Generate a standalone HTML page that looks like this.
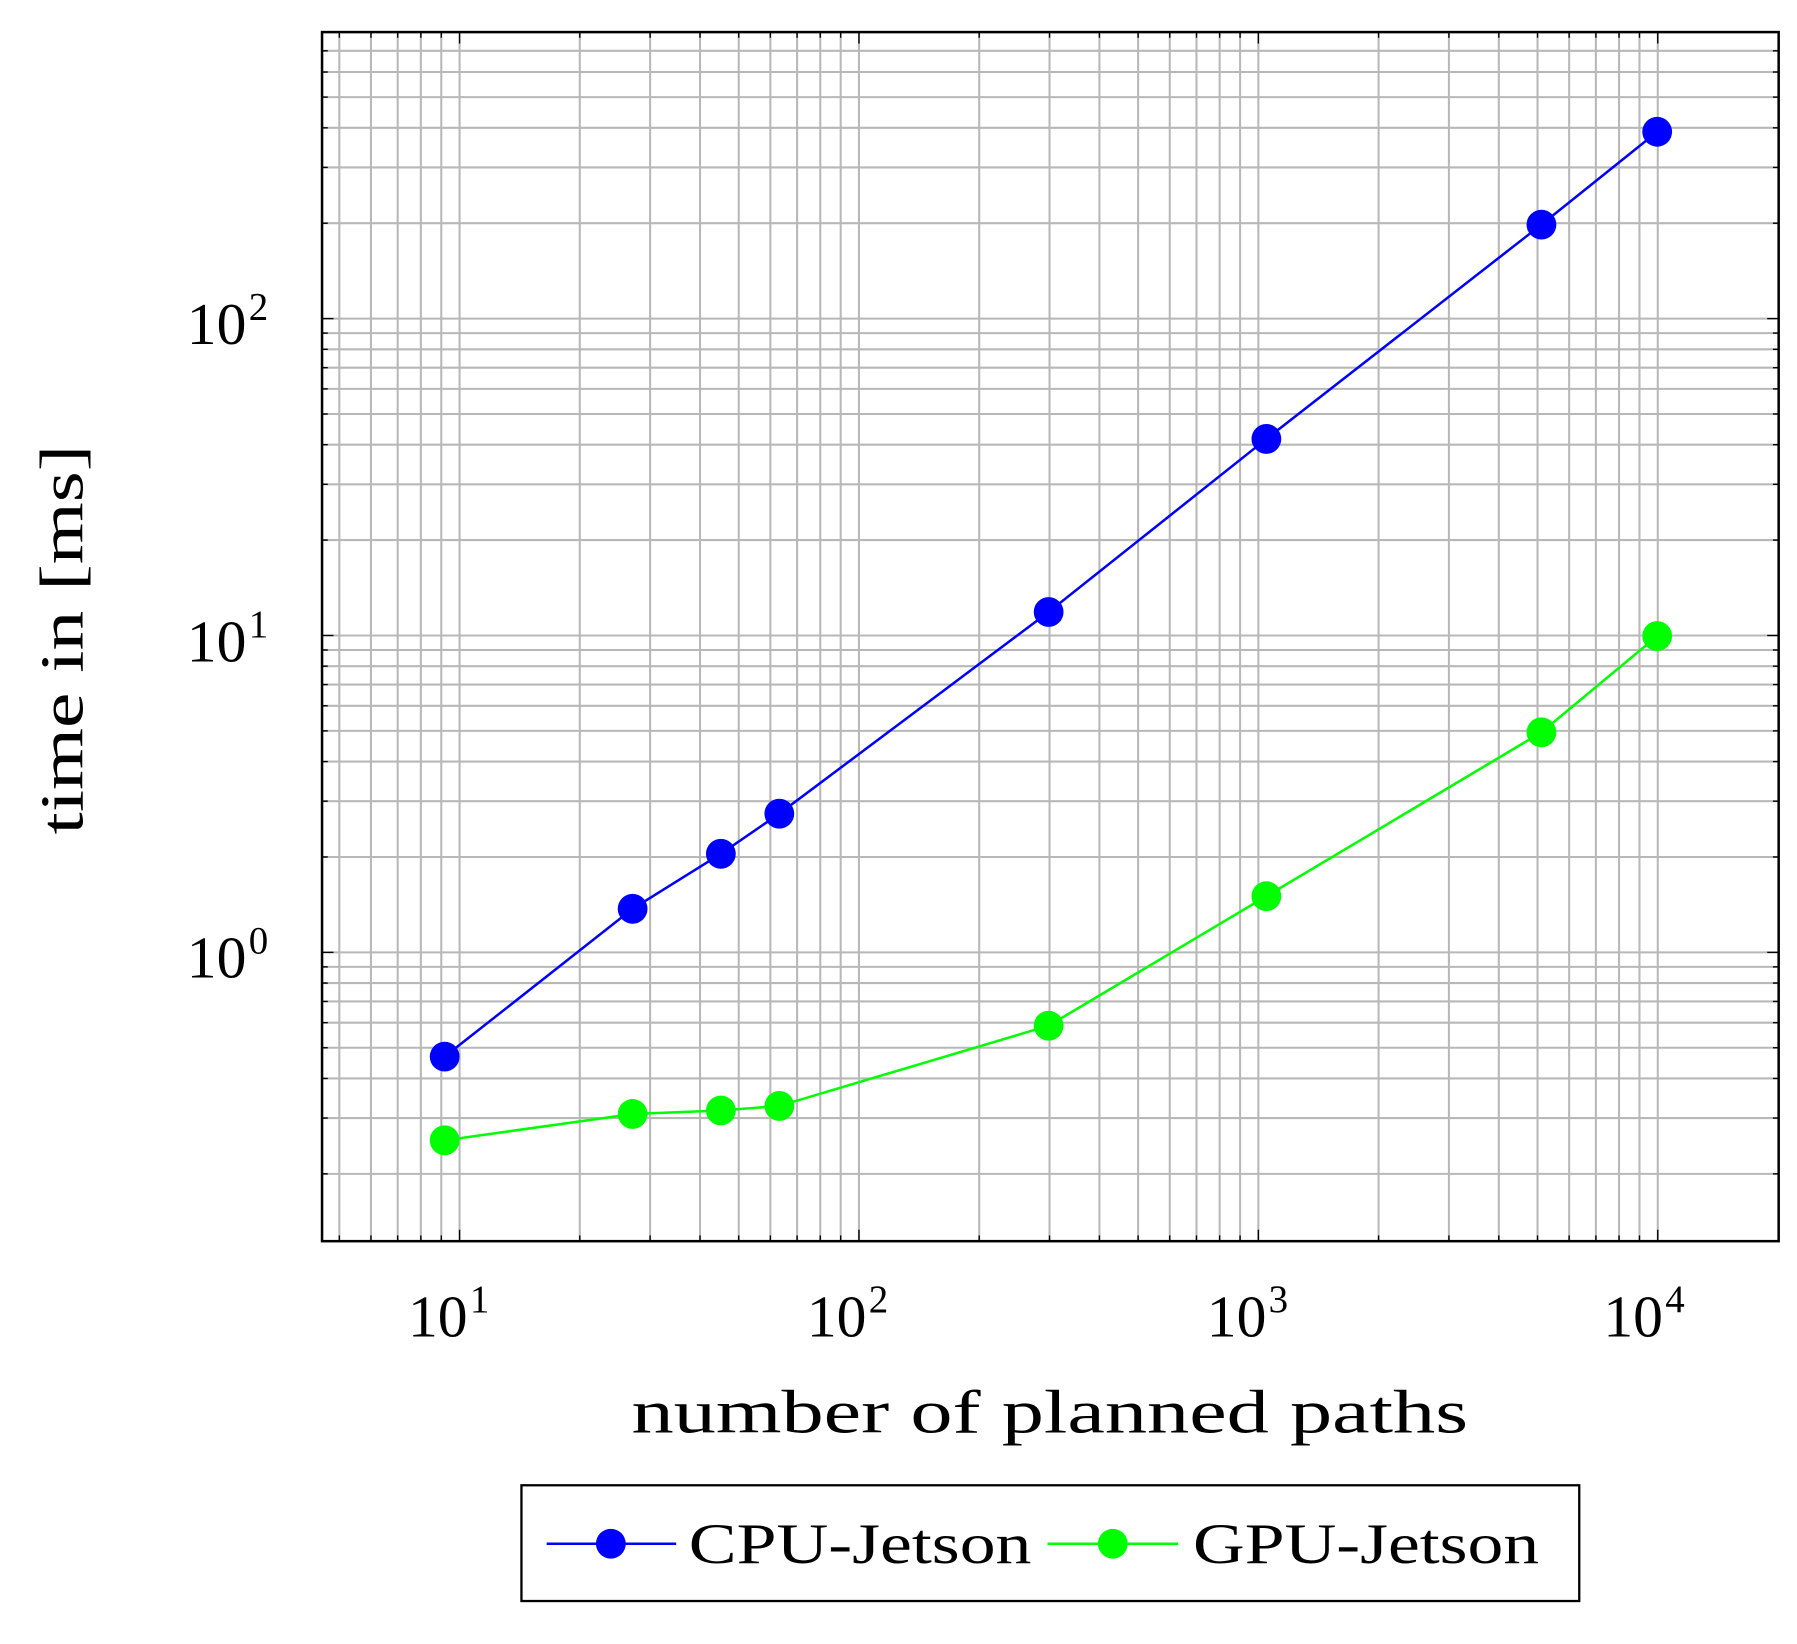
<!DOCTYPE html>
<html><head><meta charset="utf-8"><style>
html,body{margin:0;padding:0;background:#fff;}
svg{display:block;}
text{font-family:"Liberation Serif",serif;fill:#000;}
</style></head><body>
<svg id="s" width="1797" height="1644" viewBox="0 0 1568 1434.5" preserveAspectRatio="none" xmlns="http://www.w3.org/2000/svg">
<g id="grid" stroke="#b8b8b8" stroke-width="1.8"></g>
<rect x="281" y="28" width="1271" height="1055" fill="none" stroke="#000" stroke-width="2.2"/>
<g id="ticks" stroke="#000" stroke-width="1.2"></g>
<polyline fill="none" stroke="#0000ff" stroke-width="2.2" points="388,922 552,793 629,745 680,710 915,534 1105,383 1345,196 1446,115"/>
<polyline fill="none" stroke="#00ff00" stroke-width="2.2" points="388,995 552,972 629,969 680,965 915,895 1105,782 1345,639 1446,555"/>
<g fill="#0000ff">
<circle cx="388" cy="922" r="13"/><circle cx="552" cy="793" r="13"/><circle cx="629" cy="745" r="13"/><circle cx="680" cy="710" r="13"/><circle cx="915" cy="534" r="13"/><circle cx="1105" cy="383" r="13"/><circle cx="1345" cy="196" r="13"/><circle cx="1446" cy="115" r="13"/>
</g>
<g fill="#00ff00">
<circle cx="388" cy="995" r="13"/><circle cx="552" cy="972" r="13"/><circle cx="629" cy="969" r="13"/><circle cx="680" cy="965" r="13"/><circle cx="915" cy="895" r="13"/><circle cx="1105" cy="782" r="13"/><circle cx="1345" cy="639" r="13"/><circle cx="1446" cy="555" r="13"/>
</g>
<g font-size="52">
<text x="356" y="1166" textLength="52" lengthAdjust="spacingAndGlyphs">10</text><text x="410" y="1145" font-size="34">1</text>
<text x="704" y="1166" textLength="52" lengthAdjust="spacingAndGlyphs">10</text><text x="758" y="1145" font-size="34">2</text>
<text x="1053" y="1166" textLength="52" lengthAdjust="spacingAndGlyphs">10</text><text x="1107" y="1145" font-size="34">3</text>
<text x="1399" y="1166" textLength="52" lengthAdjust="spacingAndGlyphs">10</text><text x="1453" y="1145" font-size="34">4</text>
<text x="163" y="300" textLength="52" lengthAdjust="spacingAndGlyphs">10</text><text x="217" y="279" font-size="34">2</text>
<text x="163" y="577" textLength="52" lengthAdjust="spacingAndGlyphs">10</text><text x="217" y="556" font-size="34">1</text>
<text x="163" y="853" textLength="52" lengthAdjust="spacingAndGlyphs">10</text><text x="217" y="832" font-size="34">0</text>
</g>
<text x="551" y="1250" font-size="54" textLength="730" lengthAdjust="spacingAndGlyphs">number of planned paths</text>
<text transform="translate(72,728) rotate(-90)" font-size="54" textLength="340" lengthAdjust="spacingAndGlyphs">time in [ms]</text>
<rect x="455" y="1296" width="923" height="101" fill="#fff" stroke="#000" stroke-width="2"/>
<line x1="477" y1="1347" x2="590" y2="1347" stroke="#0000ff" stroke-width="2.2"/>
<circle cx="533" cy="1347" r="13" fill="#0000ff"/>
<text x="601" y="1364" font-size="50" textLength="299" lengthAdjust="spacingAndGlyphs">CPU-Jetson</text>
<line x1="914" y1="1347" x2="1028" y2="1347" stroke="#00ff00" stroke-width="2.2"/>
<circle cx="971" cy="1347" r="13" fill="#00ff00"/>
<text x="1041" y="1364" font-size="50" textLength="302" lengthAdjust="spacingAndGlyphs">GPU-Jetson</text>
</svg>
<script>
(function(){
var ns="http://www.w3.org/2000/svg";
var g=document.getElementById("grid"),t=document.getElementById("ticks");
function L(p,x1,y1,x2,y2){var l=document.createElementNS(ns,"line");l.setAttribute("x1",x1);l.setAttribute("y1",y1);l.setAttribute("x2",x2);l.setAttribute("y2",y2);p.appendChild(l);}
var L0=281,R=1552,T=28,B=1083;
function X(v){return 401+(Math.log10(v)-1)*348.5;}
function Y(v){return 831-Math.log10(v)*276.5;}
for(var e=0;e<=4;e++){for(var m=1;m<10;m++){var v=m*Math.pow(10,e);var x=X(v);if(x>L0+1&&x<R-1){L(g,x,T,x,B);var len=(m==1)?10:5;L(t,x,B,x,B-len);L(t,x,T,x,T+len);}}}
for(var e=-1;e<=2;e++){for(var m=1;m<10;m++){var v=m*Math.pow(10,e);var y=Y(v);if(y>T+1&&y<B-1){L(g,L0,y,R,y);var len=(m==1)?10:5;L(t,L0,y,L0+len,y);L(t,R,y,R-len,y);}}}
})();
</script>
</body></html>
